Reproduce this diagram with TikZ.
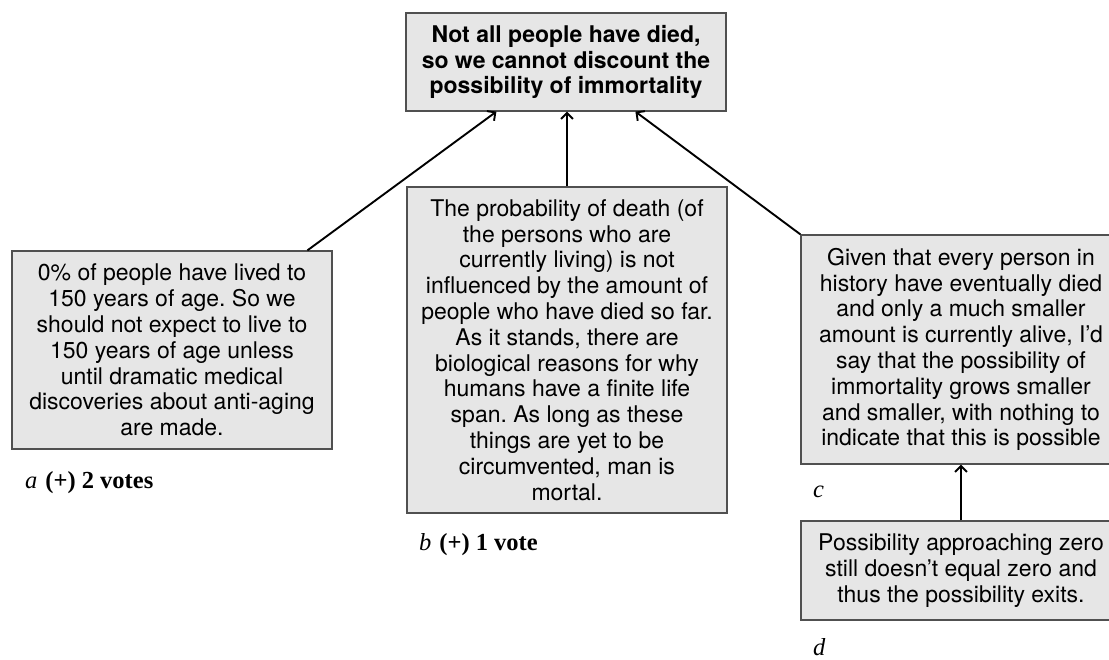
\documentclass[tikz,border=0pt]{standalone}
\usepackage{fontspec}
\setmainfont{Liberation Serif}
\newfontfamily\helv{TeX Gyre Heros}
\usetikzlibrary{arrows.meta,calc}
\definecolor{boxfill}{HTML}{E6E6E6}
\definecolor{boxborder}{HTML}{505050}
\frenchspacing
\begin{document}
\begin{tikzpicture}[x=1pt,y=-1pt,
  box/.style={draw=boxborder, fill=boxfill, line width=1.2pt, inner sep=0pt,
    align=center, minimum width=320pt, font=\helv\fontsize{23}{25.8}\selectfont},
  lbl/.style={anchor=base west, inner sep=0pt, font=\fontsize{24.5}{27}\selectfont},
  arr/.style={line width=1.9pt, -{Straight Barb[length=6pt,width=12pt]}}]
\useasboundingbox (0,0) rectangle (1109,659);

\node[box, minimum height=98pt, font=\helv\bfseries\fontsize{23}{25.8}\selectfont] (top) at (566,62)
  {Not all people have died,\\so we cannot discount the\\possibility of immortality};

\node[box, minimum height=198pt] (a) at (172,350)
  {0\% of people have lived to\\150 years of age. So we\\should not expect to live to\\150 years of age unless\\until dramatic medical\\discoveries about anti-aging\\are made.};

\node[box, minimum height=326pt] (b) at (567,350)
  {The probability of death (of\\the persons who are\\currently living) is not\\influenced by the amount of\\people who have died so far.\\As it stands, there are\\biological reasons for why\\humans have a finite life\\span. As long as these\\things are yet to be\\circumvented, man is\\mortal.};

\node[box, minimum height=229pt] (c) at (961,349.5)
  {Given that every person in\\history have eventually died\\and only a much smaller\\amount is currently alive, I’d\\say that the possibility of\\immortality grows smaller\\and smaller, with nothing to\\indicate that this is possible};

\node[box, minimum height=99pt] (d) at (961,570.5)
  {Possibility approaching zero\\still doesn’t equal zero and\\thus the possibility exits.};

\node[lbl] (la) at (25,488) {\textit{a}\hspace{8pt}\textbf{(+) 2 votes}};
\node[lbl] (lb) at (419,550) {\textit{b}\hspace{8pt}\textbf{(+) 1 vote}};
\node[lbl] (lc) at (813,497) {\textit{c}};
\node[lbl] (ld) at (813,655) {\textit{d}};

\draw[arr] ($(a.north west)+(296,0)$) -- ($(top.south west)+(91,0)$);
\draw[arr] (b.north) -- (b.north |- top.south);
\draw[arr] (c.north west) -- ($(top.south west)+(230,0)$);
\draw[arr] (d.north) -- (c.south);
\end{tikzpicture}
\end{document}
